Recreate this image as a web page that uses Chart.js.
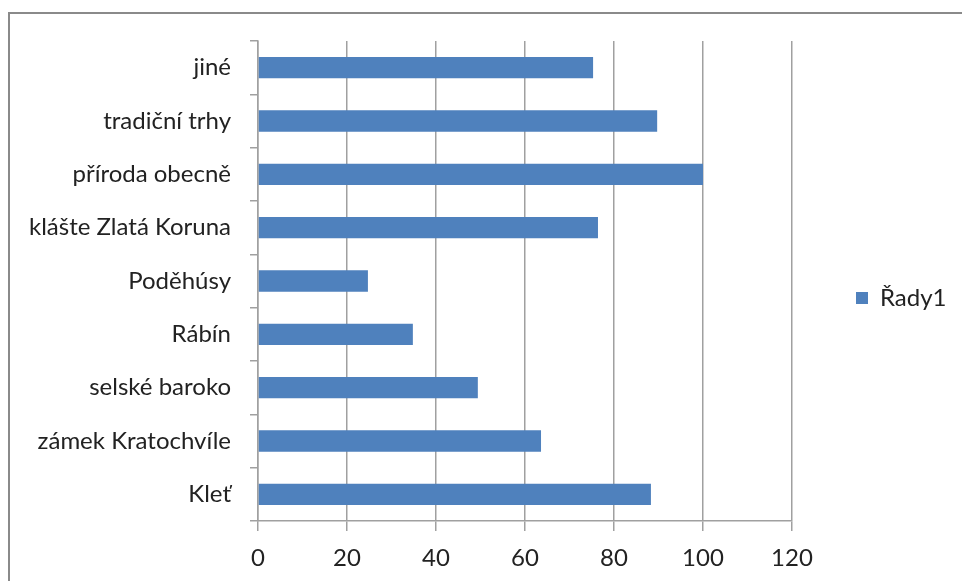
<!DOCTYPE html>
<html><head><meta charset="utf-8">
<script src="https://cdn.jsdelivr.net/npm/chart.js@4/dist/chart.umd.min.js"></script>
<style>
html,body{margin:0;padding:0;background:#fff;overflow:hidden}
#wrap{position:absolute;left:0;top:0;width:962px;height:581px}
#frame{position:absolute;left:8px;top:12px;width:1000px;height:700px;border:2px solid #8a8a8a;box-sizing:border-box}
canvas{position:absolute;left:0;top:0}
</style></head><body>
<div id="wrap"><div id="frame"></div><canvas id="c" width="962" height="581"></canvas></div>
<script>
const categories = ["jiné","tradiční trhy","příroda obecně","klášte Zlatá Koruna","Poděhúsy","Rábín","selské baroko","zámek Kratochvíle","Kleť"];
const seriesName = "Řady1";
const values = [75.3, 89.7, 100, 76.4, 24.7, 34.8, 49.4, 63.6, 88.3];
const xTicks = [0,20,40,60,80,100,120];

const FONT = "Lato, 'Open Sans', sans-serif";
const legendFix = {
  id: 'legendFix',
  beforeLayout(chart) {
    const lg = chart.legend;
    if (lg && !lg._patched) {
      const f = lg.fit;
      lg.fit = function () { f.call(this); this.width = 170; };
      lg._patched = true;
    }
  },
  afterLayout(chart) {
    const lg = chart.legend;
    if (lg) { lg.top -= 8; lg.bottom -= 8; }
  }
};
new Chart(document.getElementById('c'), {
  type: 'bar',
  data: { labels: categories, datasets: [{ label: seriesName, data: values, backgroundColor: '#4f81bd', borderWidth: 0, categoryPercentage: 0.8, barPercentage: 0.5 }] },
  options: {
    indexAxis: 'y', responsive: false, animation: false,
    layout: { padding: { left: 0, right: 0, top: 41, bottom: 10 } },
    plugins: {
      legend: { position: 'right', labels: { boxWidth: 12, boxHeight: 12, color: '#222', font: { family: FONT, size: 24 }, padding: 64 } },
      tooltip: { enabled: false }
    },
    scales: {
      x: {
        min: 0, max: 120,
        afterBuildTicks: s => { s.ticks = xTicks.map(v => ({ value: v })); },
        afterFit: s => { s.height = 50; },
        grid: { color: '#a0a0a0', lineWidth: 1.5, tickLength: 10, drawTicks: true },
        border: { color: '#a0a0a0', width: 1.5 },
        ticks: { color: '#222', font: { family: FONT, size: 24 }, padding: 13, maxRotation: 0 }
      },
      y: {
        afterFit: s => { s.width = 258; },
        grid: { drawOnChartArea: false, color: '#a0a0a0', lineWidth: 1.5, tickLength: 8, offset: true },
        border: { color: '#a0a0a0', width: 1.5 },
        ticks: { color: '#222', font: { family: FONT, size: 24 }, padding: 19 }
      }
    }
  },
  plugins: [legendFix]
});
</script></body></html>
